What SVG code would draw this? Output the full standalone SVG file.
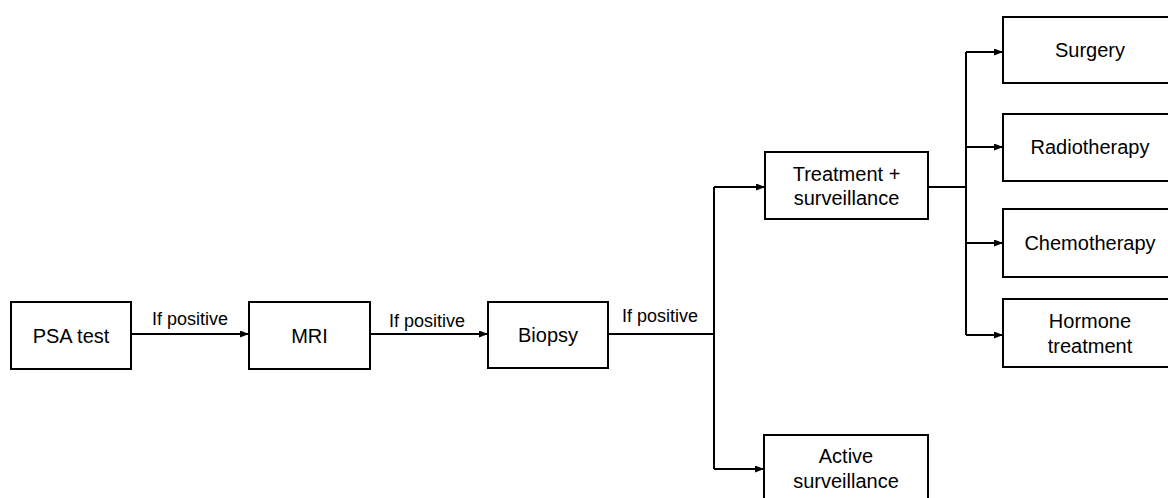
<svg xmlns="http://www.w3.org/2000/svg" width="1168" height="498" viewBox="0 0 1168 498">
<style>
.box{fill:#fff;stroke:#000;stroke-width:2}
.t{font-family:"Liberation Sans",Arial,sans-serif;font-size:20px;fill:#000;text-anchor:middle}
.lbl{font-family:"Liberation Sans",Arial,sans-serif;font-size:18px;fill:#000;text-anchor:middle}
.c{fill:none;stroke:#000;stroke-width:2}
</style>
<defs>
<marker id="ah" markerUnits="userSpaceOnUse" markerWidth="9" markerHeight="7" refX="8" refY="3.5" orient="auto">
<path d="M0,0 L9,3.5 L0,7 z" fill="#000"/>
</marker>
</defs>
<rect width="1168" height="498" fill="#fff"/>
<g id="connectors">
<path class="c" d="M131,334 H248" marker-end="url(#ah)"/>
<path class="c" d="M370,334 H487" marker-end="url(#ah)"/>
<path class="c" d="M608,334 H714"/>
<path class="c" d="M714,187 V469"/>
<path class="c" d="M714,187 H764" marker-end="url(#ah)"/>
<path class="c" d="M714,469 H763" marker-end="url(#ah)"/>
<path class="c" d="M928,187 H966"/>
<path class="c" d="M966,52 V335"/>
<path class="c" d="M966,52 H1002" marker-end="url(#ah)"/>
<path class="c" d="M966,147 H1002" marker-end="url(#ah)"/>
<path class="c" d="M966,243 H1002" marker-end="url(#ah)"/>
<path class="c" d="M966,335 H1002" marker-end="url(#ah)"/>
<text class="lbl" x="190" y="325">If positive</text>
<text class="lbl" x="427" y="327">If positive</text>
<text class="lbl" x="660" y="322">If positive</text>
</g>
<g id="psa"><rect class="box" x="11" y="302" width="120" height="67"/><text class="t" x="71" y="343">PSA test</text></g>
<g id="mri"><rect class="box" x="249" y="302" width="121" height="67"/><text class="t" x="309.5" y="343">MRI</text></g>
<g id="biopsy"><rect class="box" x="488" y="302" width="120" height="66"/><text class="t" x="548" y="342">Biopsy</text></g>
<g id="treatment"><rect class="box" x="765" y="152" width="163" height="67"/><text class="t" x="846.5" y="181">Treatment +</text><text class="t" x="846.5" y="205">surveillance</text></g>
<g id="active"><rect class="box" x="764" y="435" width="164" height="67"/><text class="t" x="846" y="463">Active</text><text class="t" x="846" y="488">surveillance</text></g>
<g id="surgery"><rect class="box" x="1003" y="17" width="174" height="66"/><text class="t" x="1090" y="57">Surgery</text></g>
<g id="radiotherapy"><rect class="box" x="1003" y="114" width="174" height="67"/><text class="t" x="1090" y="154">Radiotherapy</text></g>
<g id="chemotherapy"><rect class="box" x="1003" y="209" width="174" height="68"/><text class="t" x="1090" y="250">Chemotherapy</text></g>
<g id="hormone"><rect class="box" x="1003" y="299" width="174" height="68"/><text class="t" x="1090" y="328">Hormone</text><text class="t" x="1090" y="353">treatment</text></g>
</svg>
